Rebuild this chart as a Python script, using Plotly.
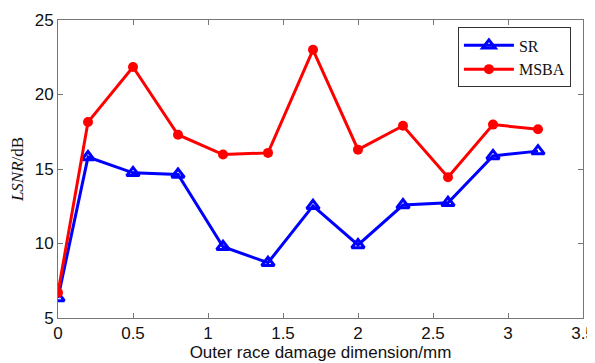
import plotly.graph_objects as go

x_mm = [0, 0.2, 0.5, 0.8, 1.1, 1.4, 1.7, 2.0, 2.3, 2.6, 2.9, 3.2]
sr = [6.35, 15.8, 14.74, 14.63, 9.78, 8.71, 12.53, 9.9, 12.58, 12.73, 15.88, 16.2]
msba = [6.7, 18.15, 21.85, 17.3, 15.97, 16.08, 23.0, 16.3, 17.9, 14.45, 17.98, 17.67]

fig = go.Figure()
fig.add_trace(go.Scatter(
    x=x_mm, y=sr, name="SR", mode="lines+markers",
    line=dict(color="#0000ff", width=3),
    marker=dict(symbol="triangle-up-open", size=11, color="#0000ff", line=dict(width=3, color="#0000ff")),
))
fig.add_trace(go.Scatter(
    x=x_mm, y=msba, name="MSBA", mode="lines+markers",
    line=dict(color="#ff0000", width=3),
    marker=dict(symbol="circle", size=10, color="#ff0000"),
))

axis_common = dict(
    showgrid=False, zeroline=False, showline=True, mirror="ticks", automargin=False,
    linecolor="#777777", linewidth=1, ticks="inside", ticklen=5, tickcolor="#777777",
    tickfont=dict(family="Liberation Sans, Arial", size=17, color="#111111"),
)

# page body has an 8px margin, so the figure is sized/offset to land where the reference is
fig.update_layout(
    width=587, height=355,
    margin=dict(l=50, r=12, t=12, b=45),
    paper_bgcolor="white", plot_bgcolor="white",
    showlegend=True,
    legend=dict(
        x=0.977, y=0.975, xanchor="right", yanchor="top",
        bgcolor="white", bordercolor="#333333", borderwidth=1,
        font=dict(family="Liberation Serif, Times New Roman", size=16, color="#111111"),
        itemwidth=50, tracegroupgap=0,
    ),
    xaxis=dict(range=[0, 3.5], tickvals=[0, 0.5, 1, 1.5, 2, 2.5, 3, 3.5],
               ticktext=["0", "0.5", "1", "1.5", "2", "2.5", "3", "3.5"],
               title=dict(text="Outer race damage dimension/mm", standoff=3,
                          font=dict(family="Liberation Sans, Arial", size=17, color="#111111")),
               **axis_common),
    yaxis=dict(range=[5, 25], tickvals=[5, 10, 15, 20, 25],
               title=dict(text="<i>LSNR</i>/dB", standoff=7,
                          font=dict(family="Liberation Serif, Times New Roman", size=17, color="#111111")),
               **axis_common),
)

fig.write_html("out.html")
